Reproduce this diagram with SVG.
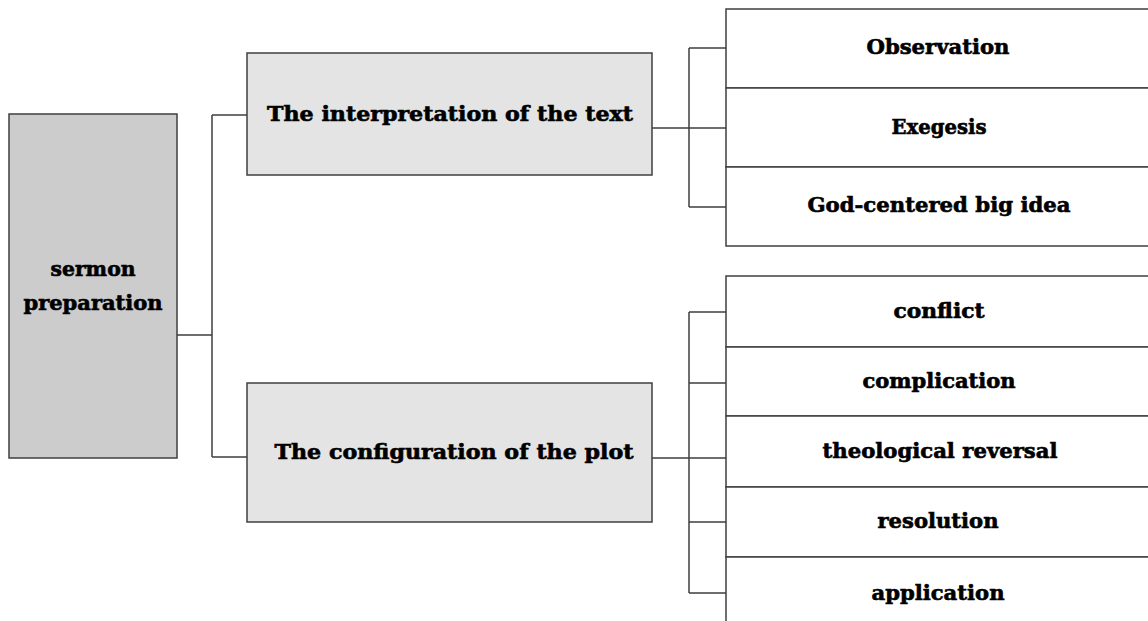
<svg xmlns="http://www.w3.org/2000/svg" width="1148" height="621" viewBox="0 0 1148 621">
  <style>
    .root { fill: #cccccc; stroke: #3f3f3f; stroke-width: 1.5; }
    .mid { fill: #e4e4e4; stroke: #3f3f3f; stroke-width: 1.5; }
    .leaf { fill: #ffffff; stroke: #3f3f3f; stroke-width: 1.5; }
    .conn { fill: none; stroke: #3f3f3f; stroke-width: 1.5; }
    text { font-family: "DejaVu Serif", "Liberation Serif", serif; font-weight: bold; font-size: 20px; fill: #000; stroke: #000; stroke-width: 0.6; text-anchor: middle; }
  </style>
  <rect width="1148" height="621" fill="#ffffff"/>

  <!-- connectors -->
  <g id="connectors" class="conn">
    <path d="M177 335 H212 M212 115 V457 M212 115 H247 M212 457 H247"/>
    <path d="M652 128 H726 M689 48 V207 M689 48 H726 M689 207 H726"/>
    <path d="M652 458 H726 M689 312 V593 M689 312 H726 M689 383 H726 M689 522 H726 M689 593 H726"/>
  </g>

  <!-- root -->
  <g id="node-sermon">
    <rect class="root" x="9" y="114" width="168" height="344"/>
    <text x="93" y="276" textLength="85" lengthAdjust="spacingAndGlyphs">sermon</text>
    <text x="93" y="310" textLength="139" lengthAdjust="spacingAndGlyphs">preparation</text>
  </g>

  <!-- second level -->
  <g id="node-interpretation">
    <rect class="mid" x="247" y="53" width="405" height="122"/>
    <text x="450" y="121" textLength="366" lengthAdjust="spacingAndGlyphs">The interpretation of the text</text>
  </g>
  <g id="node-configuration">
    <rect class="mid" x="247" y="383" width="405" height="139"/>
    <text x="454" y="459" textLength="359" lengthAdjust="spacingAndGlyphs">The configuration of the plot</text>
  </g>

  <!-- interpretation steps -->
  <g id="node-observation">
    <rect class="leaf" x="726" y="9" width="430" height="79"/>
    <text x="938" y="54" textLength="143" lengthAdjust="spacingAndGlyphs">Observation</text>
  </g>
  <g id="node-exegesis">
    <rect class="leaf" x="726" y="88" width="430" height="79"/>
    <text x="939" y="134" textLength="95" lengthAdjust="spacingAndGlyphs">Exegesis</text>
  </g>
  <g id="node-bigidea">
    <rect class="leaf" x="726" y="167" width="430" height="79"/>
    <text x="939" y="212" textLength="263" lengthAdjust="spacingAndGlyphs">God-centered big idea</text>
  </g>

  <!-- plot steps -->
  <g id="node-conflict">
    <rect class="leaf" x="726" y="276" width="430" height="71"/>
    <text x="939" y="318" textLength="91" lengthAdjust="spacingAndGlyphs">conflict</text>
  </g>
  <g id="node-complication">
    <rect class="leaf" x="726" y="347" width="430" height="69"/>
    <text x="939" y="388" textLength="153" lengthAdjust="spacingAndGlyphs">complication</text>
  </g>
  <g id="node-reversal">
    <rect class="leaf" x="726" y="416" width="430" height="71"/>
    <text x="940" y="458" textLength="235" lengthAdjust="spacingAndGlyphs">theological reversal</text>
  </g>
  <g id="node-resolution">
    <rect class="leaf" x="726" y="487" width="430" height="70"/>
    <text x="938" y="528" textLength="121" lengthAdjust="spacingAndGlyphs">resolution</text>
  </g>
  <g id="node-application">
    <rect class="leaf" x="726" y="557" width="430" height="80"/>
    <text x="938" y="600" textLength="133" lengthAdjust="spacingAndGlyphs">application</text>
  </g>
</svg>
